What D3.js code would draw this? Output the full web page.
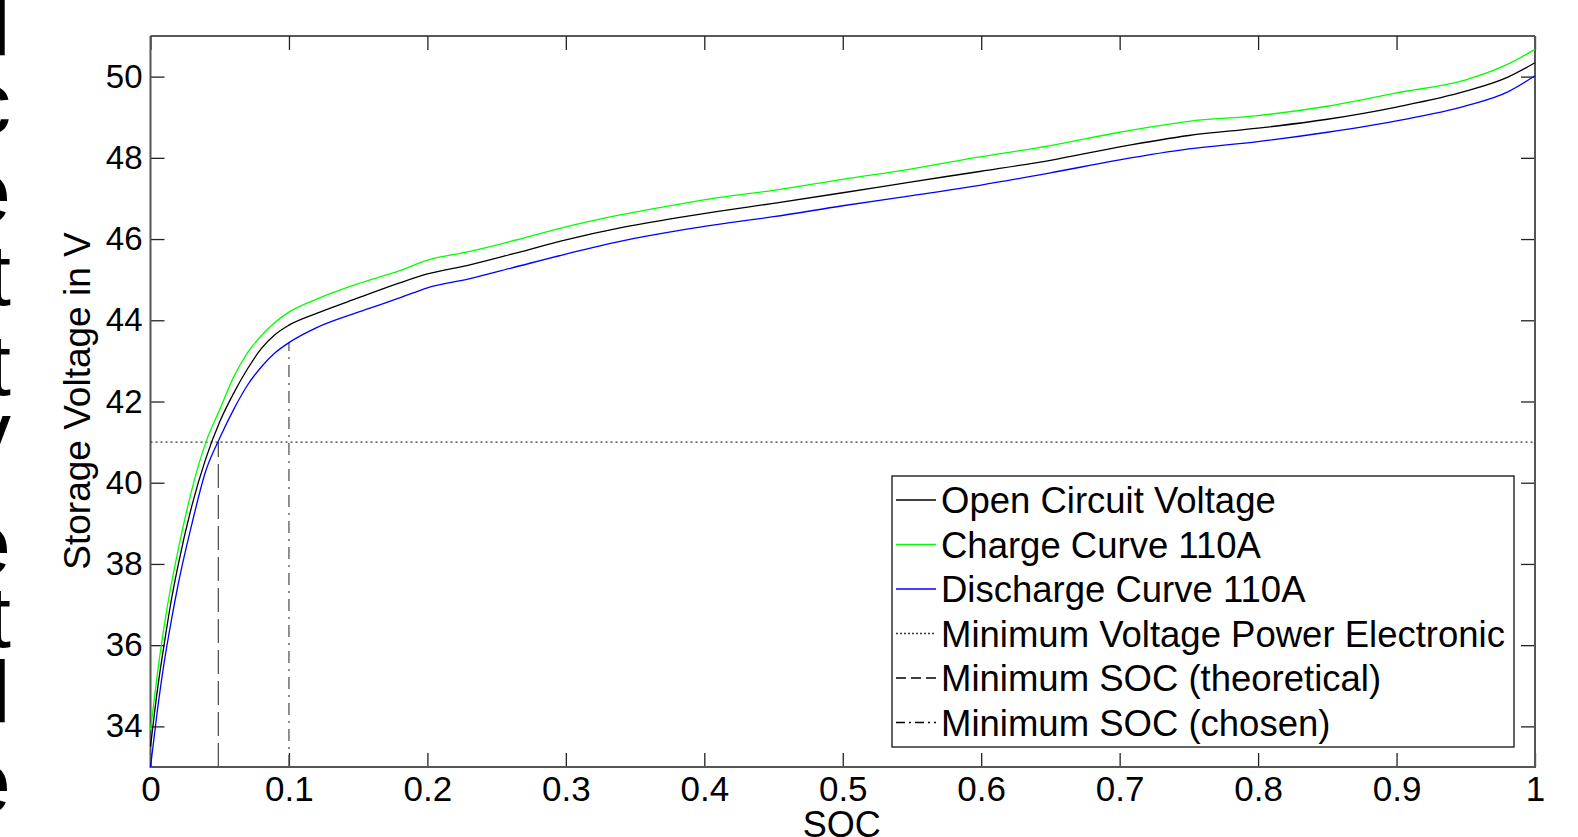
<!DOCTYPE html>
<html lang="en">
<head>
    <meta charset="UTF-8">
    <title>Storage Voltage vs SOC</title>
    <script src="https://d3js.org/d3.v7.min.js"></script>
    <style>
        body { margin: 0; background: #fff; }
        svg { display: block; font-family: "Liberation Sans", Arial, sans-serif; }
    </style>
</head>
<body>
    <div id="chart"></div>

    <script>
        // data
        const soc = [0, 0.005, 0.01, 0.015, 0.02, 0.03, 0.04, 0.05, 0.06, 0.07, 0.08, 0.09, 0.1, 0.12, 0.15, 0.18, 0.2,
            0.23, 0.26, 0.3, 0.34, 0.38, 0.41, 0.45, 0.5, 0.55, 0.6, 0.65, 0.7, 0.75, 0.8, 0.85, 0.9, 0.95, 0.98, 1.0];
        const ocv = [33.5, 34.9, 36.05, 37.1, 37.98, 39.45, 40.6, 41.5, 42.2, 42.8, 43.3, 43.65, 43.88, 44.17, 44.55, 44.92, 45.14,
            45.36, 45.62, 45.98, 46.28, 46.52, 46.68, 46.88, 47.14, 47.41, 47.67, 47.94, 48.27, 48.55, 48.73, 48.95, 49.25, 49.64, 49.98, 50.34];
        const charge = [33.9, 35.3, 36.5, 37.5, 38.35, 39.85, 41.0, 41.8, 42.6, 43.2, 43.62, 43.95, 44.2, 44.52, 44.9, 45.22, 45.48,
            45.69, 45.94, 46.3, 46.6, 46.85, 47.02, 47.2, 47.47, 47.73, 48.03, 48.3, 48.63, 48.9, 49.04, 49.27, 49.6, 49.92, 50.3, 50.67];
        const discharge = [33.0, 34.4, 35.6, 36.6, 37.5, 39.0, 40.3, 41.1, 41.8, 42.4, 42.85, 43.2, 43.45, 43.82, 44.2, 44.55, 44.8,
            45.02, 45.28, 45.63, 45.95, 46.2, 46.36, 46.55, 46.82, 47.07, 47.33, 47.63, 47.95, 48.22, 48.4, 48.63, 48.91, 49.28, 49.62, 50.02];

        const minVoltage = 41;
        const minSocTheoretical = 0.049;
        const minSocChosen = 0.1;

        const xTicks = [0, 0.1, 0.2, 0.3, 0.4, 0.5, 0.6, 0.7, 0.8, 0.9, 1];
        const xTickLabels = ["0", "0.1", "0.2", "0.3", "0.4", "0.5", "0.6", "0.7", "0.8", "0.9", "1"];
        const yTicks = [34, 36, 38, 40, 42, 44, 46, 48, 50];

        const legendLabels = ["Open Circuit Voltage", "Charge Curve 110A", "Discharge Curve 110A",
            "Minimum Voltage Power Electronic", "Minimum SOC (theoretical)", "Minimum SOC (chosen)"];

        const margin = {top: 36, right: 43, bottom: 70, left: 150.5};
        const W = 1578, H = 837;
        const width = W - margin.left - margin.right;
        const height = H - margin.top - margin.bottom;

        const root = d3.select("#chart").append("svg")
            .attr("width", W)
            .attr("height", H);

        // letters of the neighbouring text column, cut at the left edge
        const edgeLetters = [["l", 55], ["c", 133], ["e", 222], ["t", 305], ["t", 395], ["v", 462],
            ["e", 574], ["t", 647], ["l", 722], ["e", 812]];
        root.append("g").selectAll("text")
            .data(edgeLetters)
            .enter().append("text")
            .attr("x", 11)
            .attr("y", d => d[1])
            .attr("text-anchor", "end")
            .style("font-size", "88px")
            .style("font-weight", (d, i) => (i === 0 || i === 8) ? "bold" : "normal")
            .text(d => d[0]);

        const svg = root.append("g")
            .attr("transform", "translate(" + margin.left + "," + margin.top + ")");

        const x = d3.scaleLinear().domain([0, 1]).range([0, width]);
        const y = d3.scaleLinear().domain([33, 51]).range([height, 0]);

        // axes, ticks pointing inwards like matlab
        const xAxis = d3.axisBottom(x).tickValues(xTicks)
            .tickFormat((d, i) => xTickLabels[i])
            .tickSizeInner(-14).tickSizeOuter(0).tickPadding(9);
        const yAxis = d3.axisLeft(y).tickValues(yTicks)
            .tickSizeInner(-14).tickSizeOuter(0).tickPadding(8);

        const gx = svg.append("g").attr("transform", "translate(0," + height + ")").call(xAxis);
        gx.selectAll("text").style("font-size", "35px").attr("fill", "#000");
        const gy = svg.append("g").call(yAxis);
        gy.selectAll("text").style("font-size", "33px").attr("fill", "#000");

        svg.append("g").call(d3.axisTop(x).tickValues(xTicks).tickFormat("").tickSizeInner(-14).tickSizeOuter(0));
        svg.append("g").attr("transform", "translate(" + width + ",0)")
            .call(d3.axisRight(y).tickValues(yTicks).tickFormat("").tickSizeInner(-14).tickSizeOuter(0));

        svg.selectAll(".domain").remove();
        svg.selectAll(".tick line").attr("stroke", "#222").attr("stroke-width", 1.3);

        // frame
        svg.append("line").attr("x1", 0).attr("x2", width).attr("y1", 0).attr("y2", 0)
            .attr("stroke", "#222").attr("stroke-width", 1.5);
        svg.append("path")
            .attr("d", "M0,0V" + height + "H" + width + "V0")
            .attr("fill", "none").attr("stroke", "#555").attr("stroke-width", 2);

        // reference lines
        const iChosen = soc.indexOf(minSocChosen);
        svg.append("line")
            .attr("x1", x(0)).attr("x2", x(1))
            .attr("y1", y(minVoltage)).attr("y2", y(minVoltage))
            .attr("stroke", "#333").attr("stroke-width", 1.2).attr("stroke-dasharray", "2,3");
        svg.append("line")
            .attr("x1", x(minSocTheoretical)).attr("x2", x(minSocTheoretical))
            .attr("y1", y(33)).attr("y2", y(minVoltage))
            .attr("stroke", "#555").attr("stroke-width", 1.3).attr("stroke-dasharray", "24,7");
        svg.append("line")
            .attr("x1", x(minSocChosen)).attr("x2", x(minSocChosen))
            .attr("y1", y(33)).attr("y2", y(discharge[iChosen]))
            .attr("stroke", "#555").attr("stroke-width", 1.3).attr("stroke-dasharray", "12,6,2,6");

        // curves
        const line = d3.line()
            .x(d => x(d[0]))
            .y(d => y(d[1]))
            .curve(d3.curveMonotoneX);

        const series = [
            {values: ocv, color: "#000000"},
            {values: charge, color: "#00ff00"},
            {values: discharge, color: "#0000ff"}
        ];

        svg.selectAll(".curve")
            .data(series)
            .enter().append("path")
            .attr("class", "curve")
            .attr("d", s => line(soc.map((v, i) => [v, s.values[i]])))
            .attr("fill", "none")
            .attr("stroke", s => s.color)
            .attr("stroke-width", 1.3);

        // legend
        const legendStyles = [
            {color: "#000", dash: null},
            {color: "#00ff00", dash: null},
            {color: "#0000ff", dash: null},
            {color: "#333", dash: "2,2"},
            {color: "#000", dash: "10,5"},
            {color: "#000", dash: "9,4,2,4"}
        ];

        const legend = root.append("g").attr("transform", "translate(892,476)");
        legend.append("rect")
            .attr("width", 622).attr("height", 271)
            .attr("fill", "#fff").attr("stroke", "#111").attr("stroke-width", 1.3);

        const rows = legend.selectAll(".row")
            .data(legendLabels)
            .enter().append("g")
            .attr("class", "row")
            .attr("transform", (d, i) => "translate(0," + (24 + i * 44.5) + ")");

        rows.append("line")
            .attr("x1", 4).attr("x2", 44)
            .attr("stroke", (d, i) => legendStyles[i].color)
            .attr("stroke-width", 1.3)
            .attr("stroke-dasharray", (d, i) => legendStyles[i].dash);

        rows.append("text")
            .attr("x", 49)
            .attr("y", 13)
            .style("font-size", "36.5px")
            .text(d => d);

        // axis titles
        root.append("text")
            .attr("transform", "translate(90,401) rotate(-90)")
            .attr("text-anchor", "middle")
            .style("font-size", "37px")
            .text("Storage Voltage in V");

        root.append("text")
            .attr("x", margin.left + x(0.5) - 1)
            .attr("y", 837)
            .attr("text-anchor", "middle")
            .style("font-size", "36px")
            .text("SOC");
    </script>
</body>
</html>
